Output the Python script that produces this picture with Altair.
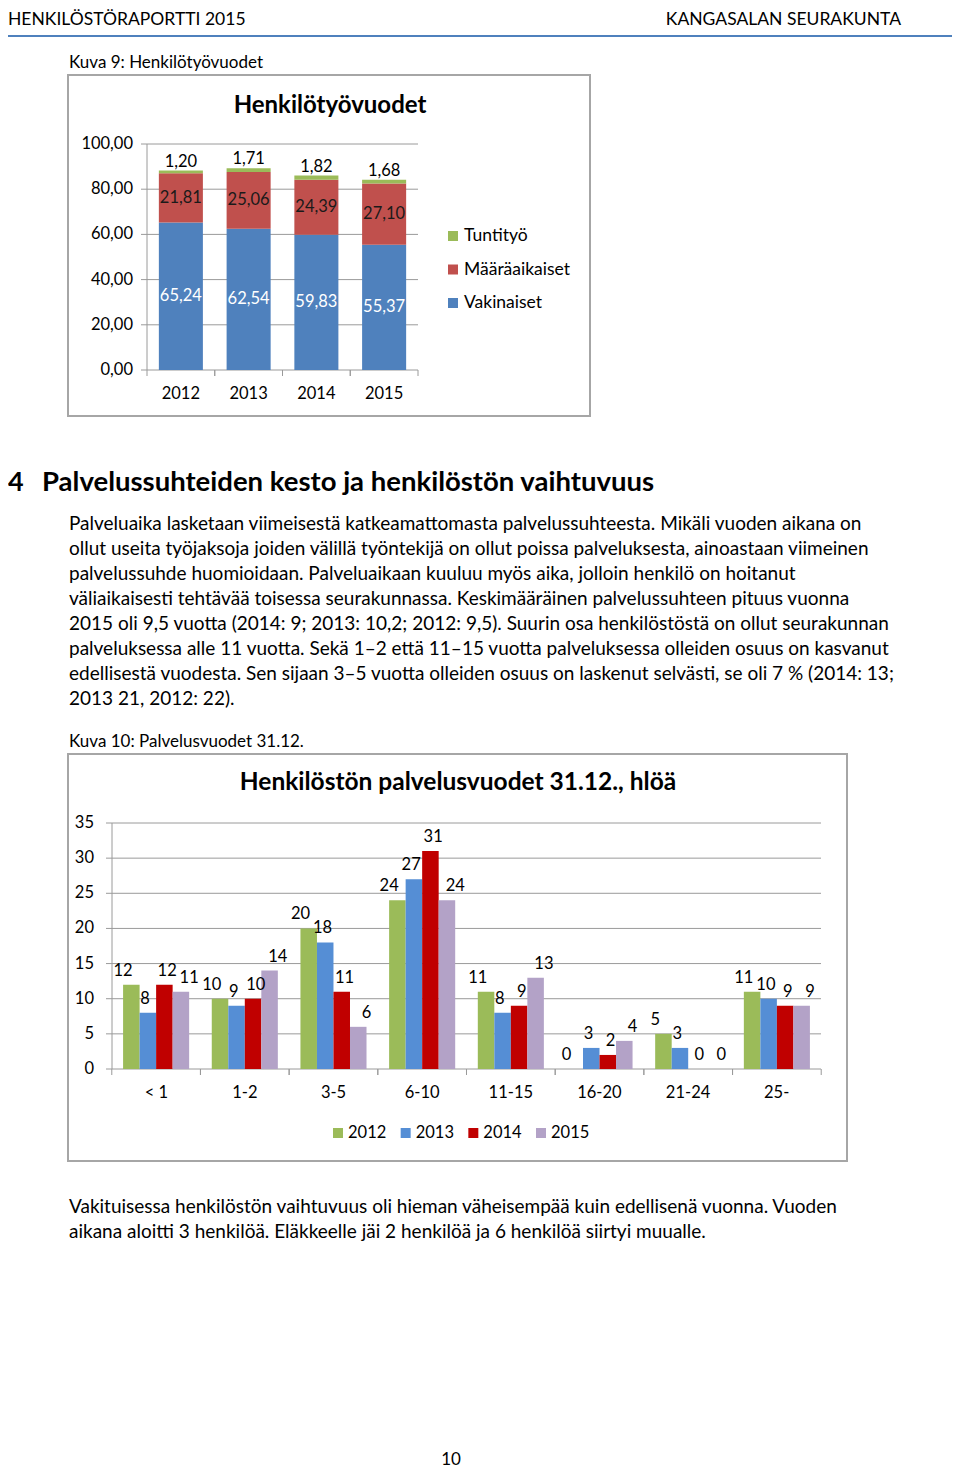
import altair as alt
import pandas as pd

FONT = "Lato"
M = 8  # page margin

# ---------------- data ----------------
years = ["2012", "2013", "2014", "2015"]
vakinaiset = [65.24, 62.54, 59.83, 55.37]
maaraaikaiset = [21.81, 25.06, 24.39, 27.10]
tuntityo = [1.20, 1.71, 1.82, 1.68]
series1 = ["Tuntityö", "Määräaikaiset", "Vakinaiset"]
colors1 = ["#9BBB59", "#C0504D", "#4F81BD"]
y1_ticks = [0, 20, 40, 60, 80, 100]
y1_labels = ["0,00", "20,00", "40,00", "60,00", "80,00", "100,00"]

categories = ["< 1", "1-2", "3-5", "6-10", "11-15", "16-20", "21-24", "25-"]
v2012 = [12, 10, 20, 24, 11, 0, 5, 11]
v2013 = [8, 9, 18, 27, 8, 3, 3, 10]
v2014 = [12, 10, 11, 31, 9, 2, 0, 9]
v2015 = [11, 14, 6, 24, 13, 4, 0, 9]
colors2 = ["#9BBB59", "#558ED5", "#C00000", "#B3A2C7"]
y2_ticks = [0, 5, 10, 15, 20, 25, 30, 35]

para1 = [
    "Palveluaika lasketaan viimeisestä katkeamattomasta palvelussuhteesta. Mikäli vuoden aikana on",
    "ollut useita työjaksoja joiden välillä työntekijä on ollut poissa palveluksesta, ainoastaan viimeinen",
    "palvelussuhde huomioidaan. Palveluaikaan kuuluu myös aika, jolloin henkilö on hoitanut",
    "väliaikaisesti tehtävää toisessa seurakunnassa. Keskimääräinen palvelussuhteen pituus vuonna",
    "2015 oli 9,5 vuotta (2014: 9; 2013: 10,2; 2012: 9,5). Suurin osa henkilöstöstä on ollut seurakunnan",
    "palveluksessa alle 11 vuotta. Sekä 1–2 että 11–15 vuotta palveluksessa olleiden osuus on kasvanut",
    "edellisestä vuodesta. Sen sijaan 3–5 vuotta olleiden osuus on laskenut selvästi, se oli 7 % (2014: 13;",
    "2013 21, 2012: 22).",
]
para2 = [
    "Vakituisessa henkilöstön vaihtuvuus oli hieman väheisempää kuin edellisenä vuonna. Vuoden",
    "aikana aloitti 3 henkilöä. Eläkkeelle jäi 2 henkilöä ja 6 henkilöä siirtyi muualle.",
]


def fmt(v):
    return f"{v:.2f}".replace(".", ",")


# ---------------- tables ----------------
rows = []
for i, yr in enumerate(years):
    base = 0.0
    for s, vals in [("Vakinaiset", vakinaiset), ("Määräaikaiset", maaraaikaiset), ("Tuntityö", tuntityo)]:
        v = vals[i]
        rows.append({"year": yr, "series": s, "v0": base, "v1": base + v, "mid": base + v / 2,
                     "label": fmt(v)})
        base += v
df1 = pd.DataFrame(rows)
df1_ticks = pd.DataFrame({"t": y1_ticks, "lab": y1_labels})
df1_years = pd.DataFrame({"year": years})
df1_leg = pd.DataFrame({"series": series1})

rows2 = []
for yr, vals in zip(years, [v2012, v2013, v2014, v2015]):
    for c, v in zip(categories, vals):
        rows2.append({"cat": c, "year": yr, "v": v})
df2 = pd.DataFrame(rows2)
df2_ticks = pd.DataFrame({"t": y2_ticks})
df2_cats = pd.DataFrame({"cat": categories})
df2_leg = pd.DataFrame({"year": years})

one = pd.DataFrame({"a": [0]})


def P(v):
    return v - M


def txt(s, x, y, size=17, weight="normal", align="left", color="black", baseline="middle"):
    return alt.Chart(one).mark_text(text=s, fontSize=size, fontWeight=weight, align=align,
                                    baseline=baseline, color=color, font=FONT).encode(
        x=alt.value(P(x)), y=alt.value(P(y)))


def box(x1, y1, x2, y2):
    return alt.Chart(one).mark_rect(fill="white", stroke="#A6A6A6", strokeWidth=2).encode(
        x=alt.value(P(x1)), x2=alt.value(P(x2)), y=alt.value(P(y1)), y2=alt.value(P(y2)))


def hline(x1, x2, y, color, w):
    return alt.Chart(one).mark_rule(color=color, strokeWidth=w).encode(
        x=alt.value(P(x1)), x2=alt.value(P(x2)), y=alt.value(P(y)))


GRID = "#9A9A9A"
layers = []

# ---------------- page header ----------------
layers += [
    txt("HENKILÖSTÖRAPORTTI 2015", 8, 20, size=17.5),
    txt("KANGASALAN SEURAKUNTA", 901, 20, size=17.5, align="right"),
    hline(8, 952, 36, "#4F81BD", 2),
    txt("Kuva 9: Henkilötyövuodet", 69, 63, size=17),
]

# ---------------- chart 1 ----------------
X1 = alt.Scale(domain=years, range=[P(147), P(418)], paddingInner=0.35, paddingOuter=0.175)
Y1 = alt.Scale(domain=[0, 100], range=[P(370), P(144)], nice=False)
C1 = alt.Scale(domain=series1, range=colors1)
bo1 = 0.35 * (418 - 147) / 4 / 2

layers.append(box(68, 75, 590, 416))
layers.append(txt("Henkilötyövuodet", 330, 106, size=24, weight="bold", align="center"))
layers.append(alt.Chart(df1_ticks).mark_rule(color=GRID, strokeWidth=1).encode(
    y=alt.Y("t:Q", scale=Y1, axis=None), x=alt.value(P(141)), x2=alt.value(P(418))))
layers.append(alt.Chart(one).mark_rule(color=GRID, strokeWidth=1).encode(
    x=alt.value(P(147)), y=alt.value(P(144)), y2=alt.value(P(370))))
for bp, off in [(0, -bo1), (1, bo1)]:
    layers.append(alt.Chart(df1_years).mark_rule(color=GRID, strokeWidth=1, xOffset=off).encode(
        x=alt.X("year:N", scale=X1, axis=None, bandPosition=bp),
        y=alt.value(P(370)), y2=alt.value(P(376))))
layers.append(alt.Chart(df1_ticks).mark_text(align="right", baseline="middle", fontSize=16.5, font=FONT,
                                             color="black").encode(
    y=alt.Y("t:Q", scale=Y1, axis=None), x=alt.value(P(133)), text="lab:N"))
layers.append(alt.Chart(df1).mark_bar().encode(
    x=alt.X("year:N", scale=X1, axis=None),
    y=alt.Y("v0:Q", scale=Y1, axis=None), y2="v1:Q",
    color=alt.Color("series:N", scale=C1, legend=None)))
layers.append(alt.Chart(df1).transform_filter("datum.series == 'Vakinaiset'").mark_text(
    fontSize=16.5, font=FONT, color="white", baseline="middle").encode(
    x=alt.X("year:N", scale=X1, axis=None), y=alt.Y("mid:Q", scale=Y1, axis=None), text="label:N"))
layers.append(alt.Chart(df1).transform_filter("datum.series == 'Määräaikaiset'").mark_text(
    fontSize=16.5, font=FONT, color="#1a1a1a", baseline="middle").encode(
    x=alt.X("year:N", scale=X1, axis=None), y=alt.Y("mid:Q", scale=Y1, axis=None), text="label:N"))
layers.append(alt.Chart(df1).transform_filter("datum.series == 'Tuntityö'").mark_text(
    fontSize=16.5, font=FONT, color="black", baseline="middle", dy=-9).encode(
    x=alt.X("year:N", scale=X1, axis=None), y=alt.Y("v1:Q", scale=Y1, axis=None), text="label:N"))
layers.append(alt.Chart(df1_years).mark_text(fontSize=16.5, font=FONT, color="black", baseline="middle").encode(
    x=alt.X("year:N", scale=X1, axis=None), y=alt.value(P(394)), text="year:N"))
L1 = alt.Scale(type="point", domain=series1, range=[P(236), P(303)], padding=0)
layers.append(alt.Chart(df1_leg).mark_square(size=100, opacity=1).encode(
    x=alt.value(P(453)), y=alt.Y("series:N", scale=L1, axis=None),
    color=alt.Color("series:N", scale=C1, legend=None)))
layers.append(alt.Chart(df1_leg).mark_text(align="left", baseline="middle", fontSize=17.5, font=FONT,
                                           color="black").encode(
    x=alt.value(P(464)), y=alt.Y("series:N", scale=L1, axis=None), text="series:N"))

# ---------------- section text ----------------
layers += [
    txt("4", 8, 483, size=27, weight="bold"),
    txt("Palvelussuhteiden kesto ja henkilöstön vaihtuvuus", 42, 483, size=27.5, weight="bold"),
]
dp1 = pd.DataFrame({"i": list(range(len(para1))), "line": para1})
layers.append(alt.Chart(dp1).mark_text(align="left", baseline="middle", fontSize=19, font=FONT,
                                       color="black").encode(
    x=alt.value(P(69)),
    y=alt.Y("i:Q", scale=alt.Scale(domain=[0, 7], range=[P(524), P(699)]), axis=None),
    text="line:N"))
layers.append(txt("Kuva 10: Palvelusvuodet 31.12.", 69, 742, size=17))

# ---------------- chart 2 ----------------
X2 = alt.Scale(domain=categories, range=[P(112), P(821)], paddingInner=0.255, paddingOuter=0.125)
XO2 = alt.Scale(domain=years, paddingInner=0, paddingOuter=0)
Y2 = alt.Scale(domain=[0, 35], range=[P(1069), P(823)], nice=False)
C2 = alt.Scale(domain=years, range=colors2)
bo2 = 0.255 * (821 - 112) / 8 / 2

layers.append(box(68, 754, 847, 1161))
layers.append(txt("Henkilöstön palvelusvuodet 31.12., hlöä", 458, 783, size=24.5, weight="bold", align="center"))
layers.append(alt.Chart(df2_ticks).mark_rule(color=GRID, strokeWidth=1).encode(
    y=alt.Y("t:Q", scale=Y2, axis=None), x=alt.value(P(106)), x2=alt.value(P(821))))
layers.append(alt.Chart(one).mark_rule(color=GRID, strokeWidth=1).encode(
    x=alt.value(P(112)), y=alt.value(P(823)), y2=alt.value(P(1069))))
for bp, off in [(0, -bo2), (1, bo2)]:
    layers.append(alt.Chart(df2_cats).mark_rule(color=GRID, strokeWidth=1, xOffset=off).encode(
        x=alt.X("cat:N", scale=X2, axis=None, bandPosition=bp),
        y=alt.value(P(1069)), y2=alt.value(P(1075))))
layers.append(alt.Chart(df2_ticks).mark_text(align="right", baseline="middle", fontSize=16.5, font=FONT,
                                             color="black").encode(
    y=alt.Y("t:Q", scale=Y2, axis=None), x=alt.value(P(94)), text="t:Q"))
layers.append(alt.Chart(df2).mark_bar().encode(
    x=alt.X("cat:N", scale=X2, axis=None),
    xOffset=alt.XOffset("year:N", scale=XO2),
    y=alt.Y("v:Q", scale=Y2, axis=None),
    color=alt.Color("year:N", scale=C2, legend=None)))
layers.append(alt.Chart(df2).mark_text(fontSize=16.5, font=FONT, color="black", baseline="middle", dy=-14).encode(
    x=alt.X("cat:N", scale=X2, axis=None),
    xOffset=alt.XOffset("year:N", scale=XO2),
    y=alt.Y("v:Q", scale=Y2, axis=None), text="v:Q"))
layers.append(alt.Chart(df2_cats).mark_text(fontSize=16.5, font=FONT, color="black", baseline="middle").encode(
    x=alt.X("cat:N", scale=X2, axis=None), y=alt.value(P(1093)), text="cat:N"))
L2 = alt.Scale(type="point", domain=years, range=[P(338), P(541)], padding=0)
layers.append(alt.Chart(df2_leg).mark_square(size=100, opacity=1).encode(
    x=alt.X("year:N", scale=L2, axis=None), y=alt.value(P(1133)),
    color=alt.Color("year:N", scale=C2, legend=None)))
layers.append(alt.Chart(df2_leg).mark_text(align="left", baseline="middle", fontSize=16.5, font=FONT,
                                           color="black", dx=10).encode(
    x=alt.X("year:N", scale=L2, axis=None), y=alt.value(P(1133)), text="year:N"))

# ---------------- closing text ----------------
dp2 = pd.DataFrame({"i": list(range(len(para2))), "line": para2})
layers.append(alt.Chart(dp2).mark_text(align="left", baseline="middle", fontSize=19, font=FONT,
                                       color="black").encode(
    x=alt.value(P(69)),
    y=alt.Y("i:Q", scale=alt.Scale(domain=[0, 1], range=[P(1207), P(1232)]), axis=None),
    text="line:N"))
layers.append(txt("10", 451, 1460, size=17, align="center"))

chart = alt.layer(*layers).resolve_scale(
    x="independent", y="independent", color="independent", xOffset="independent"
).properties(
    width=944, height=1464, padding=0, autosize=alt.AutoSizeParams(type="none")
).configure_view(stroke=None)

chart.save("out.html", embed_options={"renderer": "svg", "actions": False})
